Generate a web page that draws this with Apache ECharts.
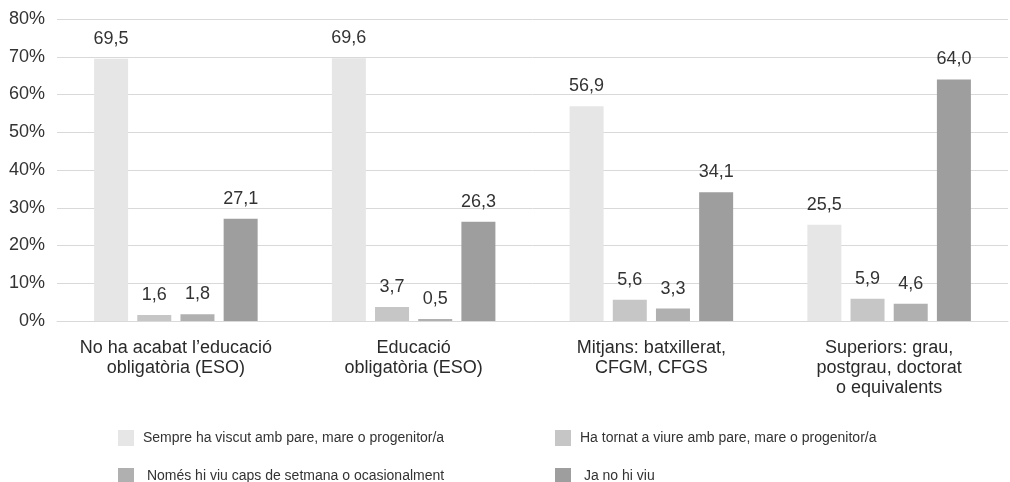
<!DOCTYPE html>
<html><head><meta charset="utf-8">
<script src="https://cdn.jsdelivr.net/npm/echarts@6/dist/echarts.min.js"></script>
<style>html,body{margin:0;padding:0;background:#fff}#c{width:1010px;height:482px}</style>
</head><body><div id="c"></div>
<script>
const categories = ["No ha acabat l\u2019educació\nobligatòria (ESO)", "Educació\nobligatòria (ESO)", "Mitjans: batxillerat,\nCFGM, CFGS", "Superiors: grau,\npostgrau, doctorat\no equivalents"];
const seriesNames = ["Sempre ha viscut amb pare, mare o progenitor/a", "Ha tornat a viure amb pare, mare o progenitor/a", " Només hi viu caps de setmana o ocasionalment", " Ja no hi viu"];
const sempre = [69.5, 69.6, 56.9, 25.5];
const tornat = [1.6, 3.7, 5.6, 5.9];
const nomes = [1.8, 0.5, 3.3, 4.6];
const jaNo = [27.1, 26.3, 34.1, 64.0];
const yTicks = [0, 10, 20, 30, 40, 50, 60, 70, 80];
const colors = ["#e6e6e6", "#c6c6c6", "#b0b0b0", "#9e9e9e"];
const FONT = "Liberation Sans, Arial, sans-serif";

const values = [sempre, tornat, nomes, jaNo];
const chart = echarts.init(document.getElementById('c'), null, {renderer: 'canvas'});
const legendPos = [[113, 425], [550, 425], [113, 463], [550, 463]];
chart.setOption({
  animation: false,
  grid: {left: 57, right: 2, top: 19, bottom: 161},
  legend: seriesNames.map((n, i) => ({
    data: [n], left: legendPos[i][0], top: legendPos[i][1],
    itemWidth: 16, itemHeight: 16, icon: 'rect',
    textStyle: {fontFamily: FONT, fontSize: 14, color: '#333', padding: [0, 0, 0, 4]}
  })),
  xAxis: {
    type: 'category', data: categories,
    axisLine: {lineStyle: {color: '#d9d9d9', width: 1}},
    axisTick: {show: false},
    axisLabel: {fontFamily: FONT, fontSize: 18, color: '#2a2a2a', lineHeight: 20, margin: 17, interval: 0}
  },
  yAxis: {
    type: 'value', min: yTicks[0], max: yTicks[yTicks.length - 1], interval: 10,
    axisLine: {show: false}, axisTick: {show: false},
    axisLabel: {formatter: '{value}%', fontFamily: FONT, fontSize: 18, color: '#333', margin: 12},
    splitLine: {lineStyle: {color: '#d9d9d9', width: 1}}
  },
  series: values.map((v, i) => ({
    name: seriesNames[i], type: 'bar', data: v,
    barWidth: 34, barGap: '27%',
    itemStyle: {color: colors[i]},
    label: {
      show: true, position: 'top', distance: 11,
      fontFamily: FONT, fontSize: 18, color: '#333',
      formatter: p => p.value.toFixed(1).replace('.', ',')
    }
  }))
});
</script></body></html>
